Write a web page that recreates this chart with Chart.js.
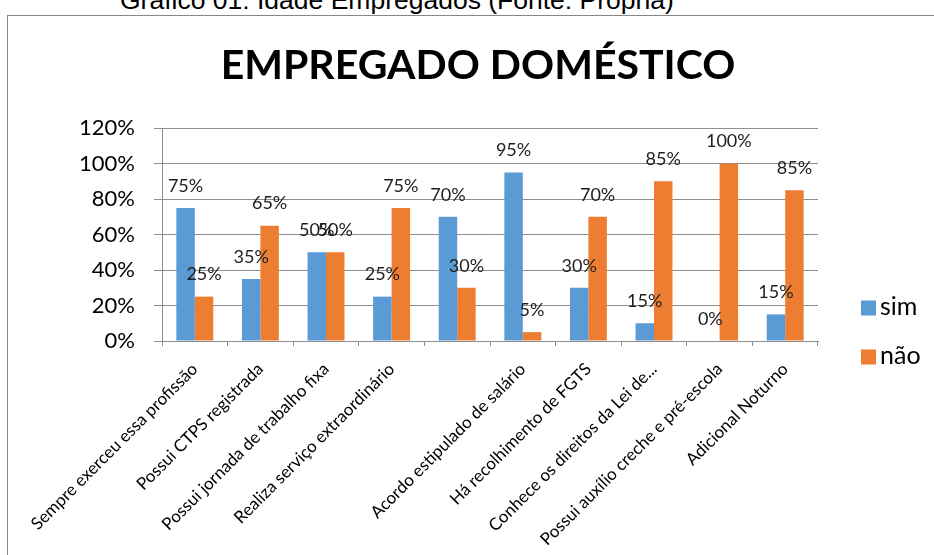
<!DOCTYPE html>
<html><head><meta charset="utf-8">
<script src="https://cdn.jsdelivr.net/npm/chart.js@4.4.0/dist/chart.umd.min.js"></script>
<style>
html,body{margin:0;padding:0;width:934px;height:555px;overflow:hidden;background:#fff;}
#cap{position:absolute;left:120px;top:-15px;font-family:"Liberation Sans",Arial,sans-serif;font-size:26.5px;line-height:30px;color:#000;white-space:nowrap;}
#frame{position:absolute;left:7px;top:15px;width:1000px;height:600px;border:1px solid #878787;}
#wrap{position:absolute;left:0;top:0;width:934px;height:555px;}
</style></head><body>
<div id="cap">Gráfico 01: Idade Empregados (Fonte: Própria)</div>
<div id="frame"></div>
<div id="wrap"><canvas id="c" width="934" height="555"></canvas></div>
<script>
const chartTitle = 'EMPREGADO DOMÉSTICO';
const categories = [
  'Sempre exerceu essa profissão',
  'Possui CTPS registrada',
  'Possui jornada de trabalho fixa',
  'Realiza serviço extraordinário',
  '',
  'Acordo estipulado de salário',
  'Há recolhimento de FGTS',
  'Conhece os direitos da Lei de...',
  'Possui auxílio creche e pré-escola',
  'Adicional Noturno'
];
const simValues = [75, 35, 50, 25, 70, 95, 30, 10, 0, 15];
const naoValues = [25, 65, 50, 75, 30, 5, 70, 90, 100, 85];
const simLabels = ['75%', '35%', '50%', '25%', '70%', '95%', '30%', '15%', '0%', '15%'];
const naoLabels = ['25%', '65%', '50%', '75%', '30%', '5%', '70%', '85%', '100%', '85%'];
const seriesNames = ['sim', 'não'];
const seriesColors = ['#5B9BD5', '#ED7D31'];
const yTickValues = [0, 20, 40, 60, 80, 100, 120];

const gridColor = '#8f8f8f';
const pointLabels = [simLabels, naoLabels];

const titlePlugin = {
  id: 'centeredTitle',
  afterDraw(chart) {
    const ctx = chart.ctx;
    ctx.save();
    ctx.font = 'bold 41px Lato';
    ctx.fillStyle = '#000';
    ctx.textAlign = 'center';
    ctx.textBaseline = 'middle';
    ctx.fillText(chartTitle, 478, 66);
    ctx.restore();
  }
};

const dataLabelPlugin = {
  id: 'dataLabels',
  afterDatasetsDraw(chart) {
    const ctx = chart.ctx;
    ctx.save();
    ctx.font = '18px Lato';
    ctx.fillStyle = '#1e1e1e';
    ctx.textAlign = 'center';
    ctx.textBaseline = 'middle';
    chart.data.datasets.forEach((ds, i) => {
      const meta = chart.getDatasetMeta(i);
      meta.data.forEach((bar, j) => {
        ctx.fillText(pointLabels[i][j], bar.x, bar.y - 22);
      });
    });
    ctx.restore();
  }
};

const legendPlugin = {
  id: 'customLegend',
  afterDraw(chart) {
    const ctx = chart.ctx;
    const x = chart.chartArea.right + 43;
    const ys = [308, 357];
    ctx.save();
    ctx.font = '25px Lato';
    ctx.textBaseline = 'middle';
    ctx.textAlign = 'left';
    chart.data.datasets.forEach((ds, i) => {
      ctx.fillStyle = ds.backgroundColor;
      ctx.fillRect(x, ys[i] - 7.5, 15, 15);
      ctx.fillStyle = '#000';
      ctx.fillText(ds.label, x + 19, ys[i] - 1);
    });
    ctx.restore();
  }
};

new Chart(document.getElementById('c'), {
  type: 'bar',
  data: {
    labels: categories,
    datasets: [
      { label: seriesNames[0], data: simValues, backgroundColor: seriesColors[0], borderWidth: 0 },
      { label: seriesNames[1], data: naoValues, backgroundColor: seriesColors[1], borderWidth: 0 }
    ]
  },
  options: {
    responsive: false,
    animation: false,
    devicePixelRatio: 1,
    categoryPercentage: 0.563,
    barPercentage: 1,
    layout: { padding: { left: 79, right: 116, top: 128, bottom: 0 } },
    plugins: {
      legend: { display: false },
      tooltip: { enabled: false },
      title: { display: false }
    },
    scales: {
      y: {
        min: 0, max: 120,
        afterBuildTicks(scale) { scale.ticks = yTickValues.map(v => ({ value: v })); },
        afterFit(scale) { scale.width = 83; },
        ticks: {
          callback: v => v + '%',
          color: '#000',
          font: { family: 'Lato', size: 22 },
          padding: 19
        },
        grid: { color: gridColor, tickLength: 8, drawTicks: true },
        border: { display: true, color: gridColor }
      },
      x: {
        afterFit(scale) { scale.height = 214; },
        ticks: {
          color: '#000',
          font: { family: 'Lato', size: 17 },
          maxRotation: 45, minRotation: 45,
          autoSkip: false,
          padding: 13
        },
        grid: { drawOnChartArea: false, color: gridColor, tickLength: 5, drawTicks: true },
        border: { display: true, color: gridColor }
      }
    }
  },
  plugins: [titlePlugin, dataLabelPlugin, legendPlugin]
});
</script>
</body></html>
